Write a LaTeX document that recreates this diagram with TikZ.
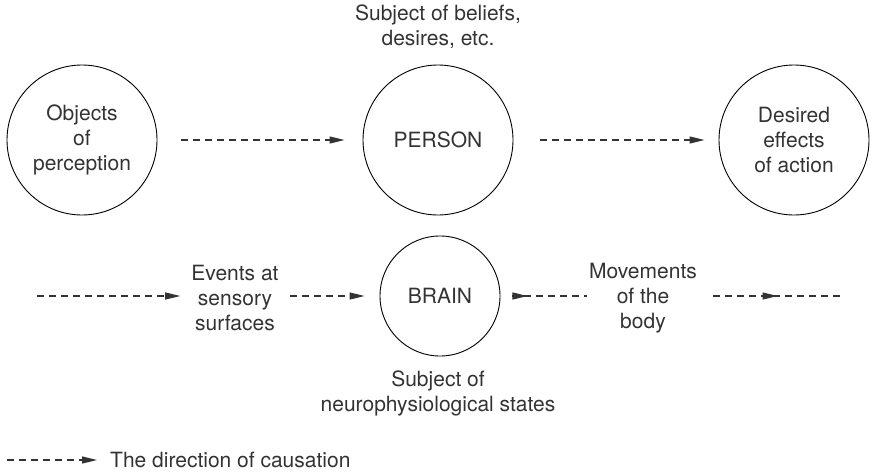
\documentclass[tikz,border=0pt]{standalone}
\usepackage{fontspec}
\setmainfont{TeX Gyre Heros}
\usetikzlibrary{arrows.meta,decorations.markings}
\definecolor{inkgray}{HTML}{333333}

\begin{document}
\begin{tikzpicture}[x=1pt,y=-1pt,font=\fontsize{21}{25}\selectfont,
 blob/.style={circle,draw=black,line width=.9pt,minimum size=150pt,inner sep=0pt,align=center,text=inkgray},
 lab/.style={align=center,inner sep=0pt,text=inkgray},
 dashline/.style={draw=inkgray,color=inkgray,line width=1.1pt,dash pattern=on 7pt off 5pt},
 cause/.style={dashline,-{Triangle[length=15pt,width=7pt]}},
 midtip/.style={postaction={decorate},decoration={markings,mark=at position #1 with {\arrow{Triangle[length=15pt,width=7pt]}}}}]
\useasboundingbox (0,0) rectangle (872,474);
\node[lab] (beliefs) at (438,27) {Subject of beliefs,\\desires, etc.};
\node[blob] (objects) at (82,140) {Objects\\of\\perception};
\node[blob] (person) at (438,140) {PERSON};
\node[blob] (effects) at (794,140) {Desired\\effects\\of action};
\node[blob,minimum size=120pt] (brain) at (440,296) {BRAIN};
\node[lab] (events) at (235,298) {Events at\\sensory\\surfaces};
\node[lab] (movements) at (643,298) {Movements\\of the\\body};
\node[lab] (neuro) at (438,393) {Subject of\\neurophysiological states};
\coordinate (stimulus) at (37,296);
\coordinate (outlet) at (842,296);
\coordinate (key) at (7,460);
\node[lab,anchor=west] (keytext) at (110,460) {The direction of causation};
\draw[cause,shorten <=24pt,shorten >=18pt] (objects) -- (person);
\draw[cause,shorten <=27pt,shorten >=14pt] (person) -- (effects);
\draw[cause,shorten >=11pt] (stimulus) -- (stimulus -| events.west);
\draw[cause,shorten <=11pt,shorten >=15pt] (events.east |- stimulus) -- (brain.west);
\draw[dashline,midtip=15pt] ([xshift=12pt]brain.east) -- ([xshift=-2pt]movements.west |- stimulus);
\draw[dashline,midtip=.5] ([xshift=16pt]movements.east |- outlet) -- (outlet);
\draw[cause,shorten >=13pt] (key) -- (keytext.west);
\end{tikzpicture}
\end{document}
